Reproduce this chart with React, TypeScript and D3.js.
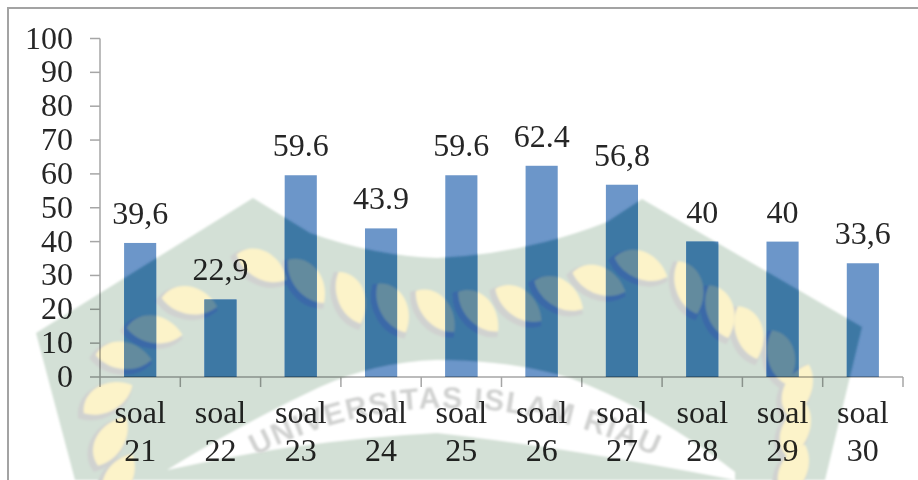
import React from "react";
import * as d3 from "d3";

// Percentage of correct answers per question
const questions = ["21", "22", "23", "24", "25", "26", "27", "28", "29", "30"];
const scores = [39.6, 22.9, 59.6, 43.9, 59.6, 62.4, 56.8, 40, 40, 33.6];
const scoreLabels = ["39,6", "22,9", "59.6", "43.9", "59.6", "62.4", "56,8", "40", "40", "33,6"];
const yTicks = d3.range(0, 101, 10);

// University crest placed behind the plot: leaf centre x, centre y, rotation
const crestLeaves: [number, number, number][] = [
  [263, 265, 32], [190, 300, 14], [155, 329, 12], [124, 355, 10],
  [107, 397, -25], [110, 440, -55], [118, 478, -60],
  [308, 280, 55], [352, 297, 72], [394, 307, 65], [437, 310, 52], [480, 310, 50],
  [520, 303, 40], [560, 293, 35], [600, 280, 25], [642, 265, 25],
  [690, 287, 75], [721, 311, 75], [750, 332, 75], [782, 357, 80],
  [797, 390, -65], [795, 430, -65], [793, 470, -65],
];
const crestOutline =
  "M36,333 L253,198 L310,233 Q375,256 437,258 Q525,254 607,222 L642,199 L862,327 L825,480 L75,480 Z";
const crestBand =
  "M167,470 Q240,425 320,387 Q375,362 437,360 Q510,360 570,378 Q655,410 735,472 L735,480 Q570,448 437,433 Q300,440 167,470 Z";
const leafPath = "M-28,5 C-21,-16 9,-20 28,0 C16,17 -12,19 -28,5 Z";

const plainPalette = { body: "#d3e0d6", band: "#ffffff", ring: "#d0d2d0", leaf: "#fcf3c9" };
const overBarPalette = { body: "#3e78a4", band: "#6c96c9", ring: "#3a69a8", leaf: "#648b9e" };

const serif = "'Liberation Serif', 'Times New Roman', serif";
const ink = "#262626";
const axisGrey = "#a6a6a6";
const barBlue = "#6c96c9";

const x = d3.scaleBand<string>().domain(questions).range([100, 903]).paddingInner(0.6).paddingOuter(0.3);
const y = d3.scaleLinear().domain([0, 100]).range([377, 38.5]);
const barTop = (v: number) => y(v);

function Crest({ palette }: { palette: typeof plainPalette }) {
  return (
    <g filter="url(#crest-soft)">
      <path d={crestOutline} fill={palette.body} />
      <path d={crestBand} fill={palette.band} />
      {crestLeaves.map(([cx, cy, r], i) => (
        <path
          key={`ring-${i}`}
          d={leafPath}
          transform={`translate(${cx - 3},${cy + 3}) rotate(${r}) scale(1.03)`}
          fill={palette.ring}
          stroke={palette.ring}
          strokeWidth={4}
        />
      ))}
      {crestLeaves.map(([cx, cy, r], i) => (
        <path key={`leaf-${i}`} d={leafPath} transform={`translate(${cx},${cy}) rotate(${r})`} fill={palette.leaf} />
      ))}
    </g>
  );
}

export default function App() {
  const step = x.step();
  const tickXs = d3.range(0, questions.length + 1).map((i) => x.range()[0] + i * step);
  return (
    <svg width={918} height={480} style={{ position: "absolute", left: 0, top: 0, background: "#fff" }}>
      <defs>
        <filter id="crest-soft" x="0" y="0" width="918" height="480" filterUnits="userSpaceOnUse">
          <feGaussianBlur stdDeviation={1.2} />
        </filter>
        <clipPath id="bar-clip">
          {questions.map((q, i) => (
            <rect key={q} x={x(q)} y={barTop(scores[i])} width={x.bandwidth()} height={y(0) - barTop(scores[i])} />
          ))}
        </clipPath>
        <path id="crest-arc" d="M240,464 Q440,352 672,464" />
      </defs>

      <Crest palette={plainPalette} />
      <text
        filter="url(#crest-soft)"
        fontFamily="'Liberation Sans', Arial, sans-serif"
        fontWeight={700}
        fontSize={30}
        fill="#d0d1d0"
        letterSpacing={1.5}
      >
        <textPath href="#crest-arc" startOffset="50%" textAnchor="middle">UNIVERSITAS ISLAM RIAU</textPath>
      </text>

      {/* bars, then the crest again in the tones it takes on where it crosses them */}
      <g>
        {questions.map((q, i) => (
          <rect key={q} x={x(q)} y={barTop(scores[i])} width={x.bandwidth()} height={y(0) - barTop(scores[i])} fill={barBlue} />
        ))}
      </g>
      <g clipPath="url(#bar-clip)">
        <Crest palette={overBarPalette} />
      </g>

      {/* frame */}
      <path d="M8,480 V8 H918" fill="none" stroke="#a3a3a3" strokeWidth={2} />

      <g style={{ mixBlendMode: "multiply" }}>
        {/* y axis */}
        <line x1={100} x2={100} y1={y(100)} y2={y(0)} stroke={axisGrey} strokeWidth={1.5} />
        {yTicks.map((t) => (
          <g key={t}>
            <line x1={90} x2={100} y1={y(t)} y2={y(t)} stroke={axisGrey} strokeWidth={1.5} />
            <text x={73} y={y(t) + 10} textAnchor="end" fontFamily={serif} fontSize={32} fill={ink}>{t}</text>
          </g>
        ))}

        {/* x axis */}
        <line x1={100} x2={903} y1={y(0)} y2={y(0)} stroke={axisGrey} strokeWidth={1.5} />
        {tickXs.map((tx) => (
          <line key={tx} x1={tx} x2={tx} y1={y(0)} y2={387} stroke={axisGrey} strokeWidth={1.5} />
        ))}
        {questions.map((q) => {
          const cx = x(q)! + x.bandwidth() / 2;
          return (
            <text key={q} textAnchor="middle" fontFamily={serif} fontSize={32} fill={ink}>
              <tspan x={cx} y={423}>soal</tspan>
              <tspan x={cx} y={460.5}>{q}</tspan>
            </text>
          );
        })}

        {/* value labels */}
        {questions.map((q, i) => (
          <text key={q} x={x(q)! + x.bandwidth() / 2} y={barTop(scores[i]) - 19} textAnchor="middle" fontFamily={serif} fontSize={32} fill={ink}>
            {scoreLabels[i]}
          </text>
        ))}
      </g>
    </svg>
  );
}
